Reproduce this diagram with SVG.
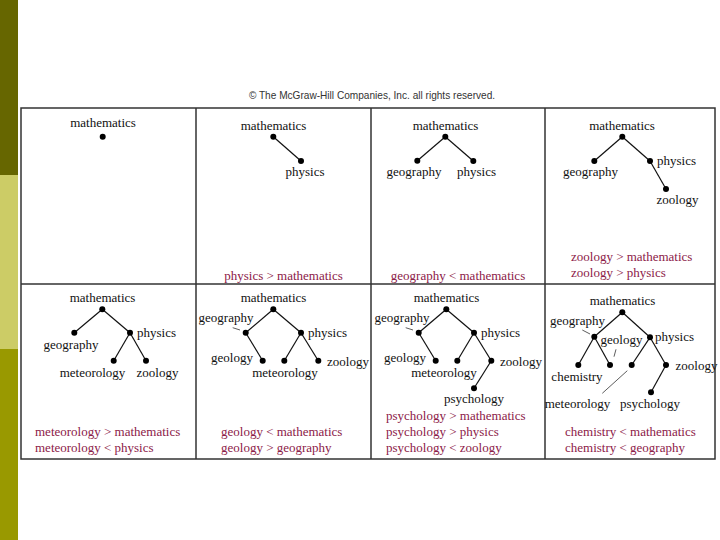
<svg xmlns="http://www.w3.org/2000/svg" width="720" height="540" viewBox="0 0 720 540">
<style>
text{font-family:"Liberation Serif","Times New Roman",serif;font-size:13px;fill:#111}
.c{text-anchor:middle}
.r{fill:#8c2048}
.cp{font-family:"Liberation Sans",Arial,sans-serif;font-size:10.1px;fill:#333}
.e{stroke:#111;stroke-width:1.2;fill:none}
.ld{stroke:#333;stroke-width:0.8;fill:none}
.grid{stroke:#333;stroke-width:1.5;fill:none}
circle{fill:#000}
</style>
<rect x="0" y="0" width="18" height="175" fill="#666600"/>
<rect x="0" y="175" width="18" height="174" fill="#cccc66"/>
<rect x="0" y="349" width="18" height="191" fill="#999900"/>
<text class="cp c" x="372" y="99">© The McGraw-Hill Companies, Inc. all rights reserved.</text>
<g id="grid">
<rect class="grid" x="21" y="108" width="694" height="351"/>
<line class="grid" x1="21" y1="284" x2="715" y2="284" stroke="#555"/>
<line class="grid" x1="196" y1="108" x2="196" y2="459"/>
<line class="grid" x1="371" y1="108" x2="371" y2="459"/>
<line class="grid" x1="545" y1="108" x2="545" y2="459"/>
</g>
<g id="connectors">
<line class="e" x1="273.3" y1="136.7" x2="301" y2="161"/>
<line class="e" x1="445.3" y1="136.7" x2="417.3" y2="160.7"/>
<line class="e" x1="445.3" y1="136.7" x2="473.3" y2="161"/>
<line class="e" x1="622.3" y1="136.7" x2="594.3" y2="161"/>
<line class="e" x1="622.3" y1="136.7" x2="650" y2="161"/>
<line class="e" x1="650" y1="161" x2="666" y2="189"/>
<line class="e" x1="102.3" y1="309.3" x2="74.3" y2="332.7"/>
<line class="e" x1="102.3" y1="309.3" x2="130" y2="332.7"/>
<line class="e" x1="130" y1="332.7" x2="113.7" y2="360.7"/>
<line class="e" x1="130" y1="332.7" x2="146" y2="360.7"/>
<line class="e" x1="273.3" y1="309.3" x2="245.7" y2="332.7"/>
<line class="e" x1="273.3" y1="309.3" x2="301" y2="332.7"/>
<line class="e" x1="245.7" y1="332.7" x2="262.7" y2="360.7"/>
<line class="e" x1="301" y1="332.7" x2="284.3" y2="360.7"/>
<line class="e" x1="301" y1="332.7" x2="318.3" y2="360.7"/>
<line class="ld" x1="232.7" y1="327.7" x2="240" y2="330"/>
<line class="e" x1="446.3" y1="309.3" x2="418.7" y2="332.7"/>
<line class="e" x1="446.3" y1="309.3" x2="474" y2="332.7"/>
<line class="e" x1="418.7" y1="332.7" x2="435.7" y2="360.7"/>
<line class="e" x1="474" y1="332.7" x2="457.3" y2="360.7"/>
<line class="e" x1="474" y1="332.7" x2="491.3" y2="360.7"/>
<line class="e" x1="491.3" y1="360.7" x2="474" y2="388.3"/>
<line class="ld" x1="405.7" y1="327.7" x2="413" y2="330"/>
<line class="e" x1="622.3" y1="312.3" x2="594.3" y2="336.7"/>
<line class="e" x1="622.3" y1="312.3" x2="650" y2="337.3"/>
<line class="e" x1="594.3" y1="336.7" x2="578.3" y2="365"/>
<line class="e" x1="594.3" y1="336.7" x2="610" y2="365"/>
<line class="e" x1="650" y1="337.3" x2="631.7" y2="365"/>
<line class="e" x1="650" y1="337.3" x2="666" y2="365"/>
<line class="e" x1="666" y1="365" x2="651" y2="392.3"/>
<line class="ld" x1="582.3" y1="330" x2="590" y2="334"/>
<line class="ld" x1="616" y1="349.3" x2="614" y2="356.7"/>
<line class="ld" x1="627.3" y1="370.7" x2="602.3" y2="393.3"/>
</g>
<g id="panel1">
<g id="p1-mathematics"><text class="c" x="103" y="127">mathematics</text><circle cx="102.7" cy="136.7" r="3"/></g>
</g>
<g id="panel2">
<g id="p2-mathematics"><text class="c" x="273.5" y="130">mathematics</text><circle cx="273.3" cy="136.7" r="3"/></g>
<g id="p2-physics"><text class="c" x="305" y="176">physics</text><circle cx="301" cy="161" r="3"/></g>
<text class="c r" x="283.5" y="280">physics &gt; mathematics</text>
</g>
<g id="panel3">
<g id="p3-mathematics"><text class="c" x="445.5" y="130">mathematics</text><circle cx="445.3" cy="136.7" r="3"/></g>
<g id="p3-geography"><text class="c" x="414" y="176">geography</text><circle cx="417.3" cy="160.7" r="3"/></g>
<g id="p3-physics"><text class="c" x="476.5" y="176">physics</text><circle cx="473.3" cy="161" r="3"/></g>
<text class="c r" x="458" y="280">geography &lt; mathematics</text>
</g>
<g id="panel4">
<g id="p4-mathematics"><text class="c" x="622" y="130">mathematics</text><circle cx="622.3" cy="136.7" r="3"/></g>
<g id="p4-geography"><text class="c" x="590.5" y="176">geography</text><circle cx="594.3" cy="161" r="3"/></g>
<g id="p4-physics"><text x="657" y="165">physics</text><circle cx="650" cy="161" r="3"/></g>
<g id="p4-zoology"><text class="c" x="677.5" y="204">zoology</text><circle cx="666" cy="189" r="3"/></g>
<text class="r" x="571" y="261">zoology &gt; mathematics</text>
<text class="r" x="571" y="277">zoology &gt; physics</text>
</g>
<g id="panel5">
<g id="p5-mathematics"><text class="c" x="102.5" y="302">mathematics</text><circle cx="102.3" cy="309.3" r="3"/></g>
<g id="p5-geography"><text class="c" x="71" y="349">geography</text><circle cx="74.3" cy="332.7" r="3"/></g>
<g id="p5-physics"><text x="137" y="337">physics</text><circle cx="130" cy="332.7" r="3"/></g>
<g id="p5-meteorology"><text class="c" x="92.5" y="377">meteorology</text><circle cx="113.7" cy="360.7" r="3"/></g>
<g id="p5-zoology"><text class="c" x="157.5" y="377">zoology</text><circle cx="146" cy="360.7" r="3"/></g>
<text class="r" x="35" y="436">meteorology &gt; mathematics</text>
<text class="r" x="35" y="452">meteorology &lt; physics</text>
</g>
<g id="panel6">
<g id="p6-mathematics"><text class="c" x="273.5" y="302">mathematics</text><circle cx="273.3" cy="309.3" r="3"/></g>
<g id="p6-geography"><text class="c" x="226" y="322">geography</text><circle cx="245.7" cy="332.7" r="3"/></g>
<g id="p6-physics"><text x="308" y="337">physics</text><circle cx="301" cy="332.7" r="3"/></g>
<g id="p6-geology"><text class="c" x="232" y="362">geology</text><circle cx="262.7" cy="360.7" r="3"/></g>
<g id="p6-meteorology"><text class="c" x="285" y="377">meteorology</text><circle cx="284.3" cy="360.7" r="3"/></g>
<g id="p6-zoology"><text class="c" x="348" y="366">zoology</text><circle cx="318.3" cy="360.7" r="3"/></g>
<text class="r" x="221" y="436">geology &lt; mathematics</text>
<text class="r" x="221" y="452">geology &gt; geography</text>
</g>
<g id="panel7">
<g id="p7-mathematics"><text class="c" x="446.5" y="302">mathematics</text><circle cx="446.3" cy="309.3" r="3"/></g>
<g id="p7-geography"><text class="c" x="402" y="322">geography</text><circle cx="418.7" cy="332.7" r="3"/></g>
<g id="p7-physics"><text x="481" y="337">physics</text><circle cx="474" cy="332.7" r="3"/></g>
<g id="p7-geology"><text class="c" x="405" y="362">geology</text><circle cx="435.7" cy="360.7" r="3"/></g>
<g id="p7-meteorology"><text class="c" x="444" y="377">meteorology</text><circle cx="457.3" cy="360.7" r="3"/></g>
<g id="p7-zoology"><text class="c" x="521" y="366">zoology</text><circle cx="491.3" cy="360.7" r="3"/></g>
<g id="p7-psychology"><text class="c" x="474" y="403">psychology</text><circle cx="474" cy="388.3" r="3"/></g>
<text class="r" x="386" y="420">psychology &gt; mathematics</text>
<text class="r" x="386" y="436">psychology &gt; physics</text>
<text class="r" x="386" y="452">psychology &lt; zoology</text>
</g>
<g id="panel8">
<g id="p8-mathematics"><text class="c" x="622.5" y="305">mathematics</text><circle cx="622.3" cy="312.3" r="3"/></g>
<g id="p8-geography"><text class="c" x="577.5" y="325">geography</text><circle cx="594.3" cy="336.7" r="3"/></g>
<g id="p8-physics"><text x="655" y="341">physics</text><circle cx="650" cy="337.3" r="3"/></g>
<g id="p8-chemistry"><text class="c" x="577" y="381">chemistry</text><circle cx="578.3" cy="365" r="3"/></g>
<g id="p8-geology"><text class="c" x="621.5" y="344">geology</text><circle cx="610" cy="365" r="3"/></g>
<g id="p8-meteorology"><text class="c" x="577.5" y="408">meteorology</text><circle cx="631.7" cy="365" r="3"/></g>
<g id="p8-zoology"><text class="c" x="696.5" y="370">zoology</text><circle cx="666" cy="365" r="3"/></g>
<g id="p8-psychology"><text class="c" x="650" y="408">psychology</text><circle cx="651" cy="392.3" r="3"/></g>
<text class="r" x="565" y="436">chemistry &lt; mathematics</text>
<text class="r" x="565" y="452">chemistry &lt; geography</text>
</g>
</svg>
